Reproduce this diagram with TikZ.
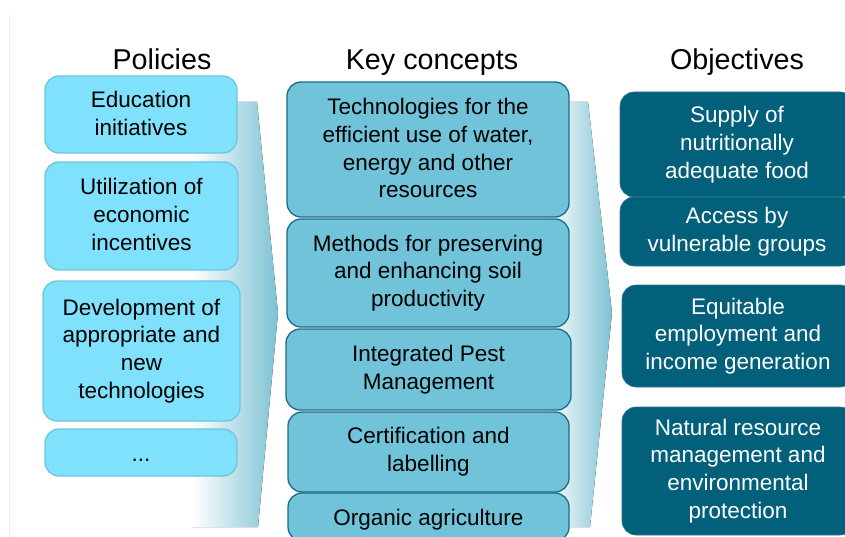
\documentclass[tikz,border=0pt]{standalone}
\usepackage{fontspec}
\setmainfont{Liberation Sans}
\definecolor{policyfill}{HTML}{80E1FC}
\definecolor{policyedge}{HTML}{6CC6DC}
\definecolor{conceptfill}{HTML}{70C3D8}
\definecolor{conceptedge}{HTML}{1B6C89}
\definecolor{goalfill}{HTML}{02607B}
\definecolor{goaledge}{HTML}{2B7C94}
\definecolor{flowteal}{HTML}{7CC2D3}
\begin{document}
\begin{tikzpicture}[x=1pt,y=-1pt,
  heading/.style={font=\fontsize{28.7}{34}\selectfont, inner sep=0pt, anchor=base},
  card/.style={font=\fontsize{22.5}{27.8}\selectfont, align=center,
    rounded corners=14pt, inner sep=0pt, line width=1.3pt,
    execute at begin node={\rule{0pt}{21.5pt}},
    execute at end node={\rule[-2.8pt]{0pt}{2.8pt}}},
  policy/.style={card, fill=policyfill, draw=policyedge},
  concept/.style={card, fill=conceptfill, draw=conceptedge},
  goal/.style={card, fill=goalfill, draw=goaledge, line width=0.6pt, text=white},
  flow/.style={left color=white, right color=flowteal, draw=none}
]
\useasboundingbox (0,0) rectangle (845,537);
\clip (0,0) rectangle (845,537);

% thin page rule on the left
\draw[black!7, line width=0.8pt] (9,15) -- (9,537);

% headings
\node[heading] (hpol) at (162,70) {Policies};
\node[heading] (hkey) at (432,70) {Key concepts};
\node[heading] (hobj) at (737,70) {Objectives};

% shaded chevrons carrying each column into the next
\fill[flow] (192,102) -- (257,102) -- (278,313) -- (258,527) -- (192,527) -- cycle;
\fill[flow] (548,102) -- (588,102) -- (612,313) -- (590,527) -- (548,527) -- cycle;

% policies
\node[policy, minimum width=192pt, minimum height=77pt] (p1) at (141,114.5)
  {Education\\initiatives};
\node[policy, minimum width=193pt, minimum height=108pt] (p2) at (141.5,216)
  {Utilization of\\economic\\incentives};
\node[policy, minimum width=197pt, minimum height=140pt] (p3) at (141.5,351)
  {Development of\\appropriate and\\new\\technologies};
\node[policy, minimum width=192pt, minimum height=47pt] (p4) at (141,452.5)
  {...};

% key concepts
\node[concept, minimum width=282pt, minimum height=135pt] (k1) at (428,149.5)
  {Technologies for the\\efficient use of water,\\energy and other\\resources};
\node[concept, minimum width=282pt, minimum height=108pt] (k2) at (428,273)
  {Methods for preserving\\and enhancing soil\\productivity};
\node[concept, minimum width=285pt, minimum height=81pt] (k3) at (428.5,369.5)
  {Integrated Pest\\Management};
\node[concept, minimum width=281pt, minimum height=80pt] (k4) at (428.5,452)
  {Certification and\\labelling};
\node[concept, minimum width=281pt, minimum height=48pt] (k5) at (428.5,517)
  {Organic agriculture};

% objectives
\node[goal, minimum width=234pt, minimum height=105pt] (o1) at (737,144.5)
  {Supply of\\nutritionally\\adequate food};
\node[goal, minimum width=234pt, minimum height=69pt] (o2) at (737,231.5)
  {Access by\\vulnerable groups};
\node[goal, minimum width=232pt, minimum height=102pt] (o3) at (738,336)
  {Equitable\\employment and\\income generation};
\node[goal, minimum width=232pt, minimum height=128pt] (o4) at (738,471)
  {Natural resource\\management and\\environmental\\protection};
\end{tikzpicture}
\end{document}
